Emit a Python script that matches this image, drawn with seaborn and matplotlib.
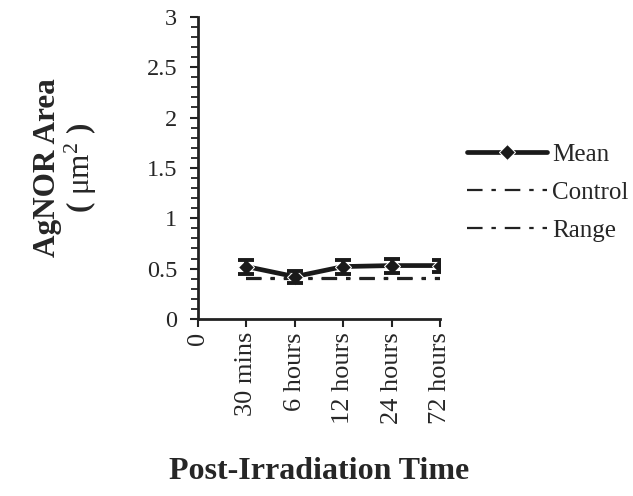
import matplotlib
matplotlib.use("Agg")
import matplotlib.pyplot as plt
import seaborn as sns
import numpy as np
import pandas as pd
from matplotlib.ticker import MultipleLocator

sns.set_theme(style="ticks")
plt.rcParams["font.family"] = ["Liberation Serif", "DejaVu Serif"]
plt.rcParams["mathtext.fontset"] = "custom"
plt.rcParams["mathtext.rm"] = "Liberation Serif"

# Sampling times after irradiation
times = ["30 mins", "6 hours", "12 hours", "24 hours", "72 hours"]
tick_labels = ["0"] + times
mean_area = [0.52, 0.42, 0.52, 0.53, 0.53]
mean_err = [0.07, 0.06, 0.07, 0.07, 0.06]
control_area = [0.41, 0.41, 0.41, 0.41, 0.41]
range_area = [0.40, 0.40, 0.40, 0.40, 0.40]

pos = np.arange(1, len(times) + 1)
df = pd.DataFrame({"pos": pos, "mean": mean_area, "err": mean_err,
                   "control": control_area, "range": range_area})

fig = plt.figure(figsize=(6.33, 4.96), dpi=100)
ax = fig.add_axes([0.313, 0.357, 0.382, 0.609])

dash_dot = (0, (7, 4, 2, 4))
sns.lineplot(data=df, x="pos", y="control", ax=ax, color="#222222",
             linewidth=1.6, linestyle=dash_dot, label="Control")
sns.lineplot(data=df, x="pos", y="range", ax=ax, color="#222222",
             linewidth=1.6, linestyle=dash_dot, label="Range")
sns.lineplot(data=df, x="pos", y="mean", ax=ax, color="#1a1a1a",
             linewidth=3.4, marker="D", markersize=8.5, label="Mean")
ax.errorbar(df["pos"], df["mean"], yerr=df["err"], fmt="none",
            ecolor="#1a1a1a", elinewidth=2.6, capsize=6, capthick=2.8)

ax.set_xlim(0, 5)
ax.set_ylim(0, 3)
ax.set_xticks(np.arange(0, 6))
ax.set_xticklabels(tick_labels, rotation=90, fontsize=19)
ax.yaxis.set_major_locator(MultipleLocator(0.5))
ax.yaxis.set_minor_locator(MultipleLocator(0.1))
ax.set_yticks([0, 0.5, 1, 1.5, 2, 2.5, 3])
ax.set_yticklabels(["0", "0.5", "1", "1.5", "2", "2.5", "3"], fontsize=17.5)
ax.tick_params(axis="both", which="major", length=6, width=1.5, color="#222222")
ax.tick_params(axis="y", which="major", pad=9)
ax.tick_params(axis="y", which="minor", length=5, width=1.3, color="#222222")

for side in ["top", "right"]:
    ax.spines[side].set_visible(False)
for side in ["left", "bottom"]:
    ax.spines[side].set_linewidth(2)
    ax.spines[side].set_color("#222222")

ax.set_xlabel("Post-Irradiation Time", fontsize=23, fontweight="bold", labelpad=24)
ax.set_ylabel("AgNOR Area\n( $\\mathrm{\\mu m^2}$ )", fontsize=22.5,
              fontweight="bold", labelpad=34, linespacing=1.05)

handles, labels = ax.get_legend_handles_labels()
order = [labels.index(n) for n in ["Mean", "Control", "Range"]]
leg = ax.legend([handles[i] for i in order], [labels[i] for i in order],
                loc="center left", bbox_to_anchor=(1.07, 0.417), frameon=False,
                fontsize=18, handlelength=3.2, handletextpad=0.2,
                labelspacing=0.62, borderaxespad=0)

fig.savefig("out.png", dpi=100)
